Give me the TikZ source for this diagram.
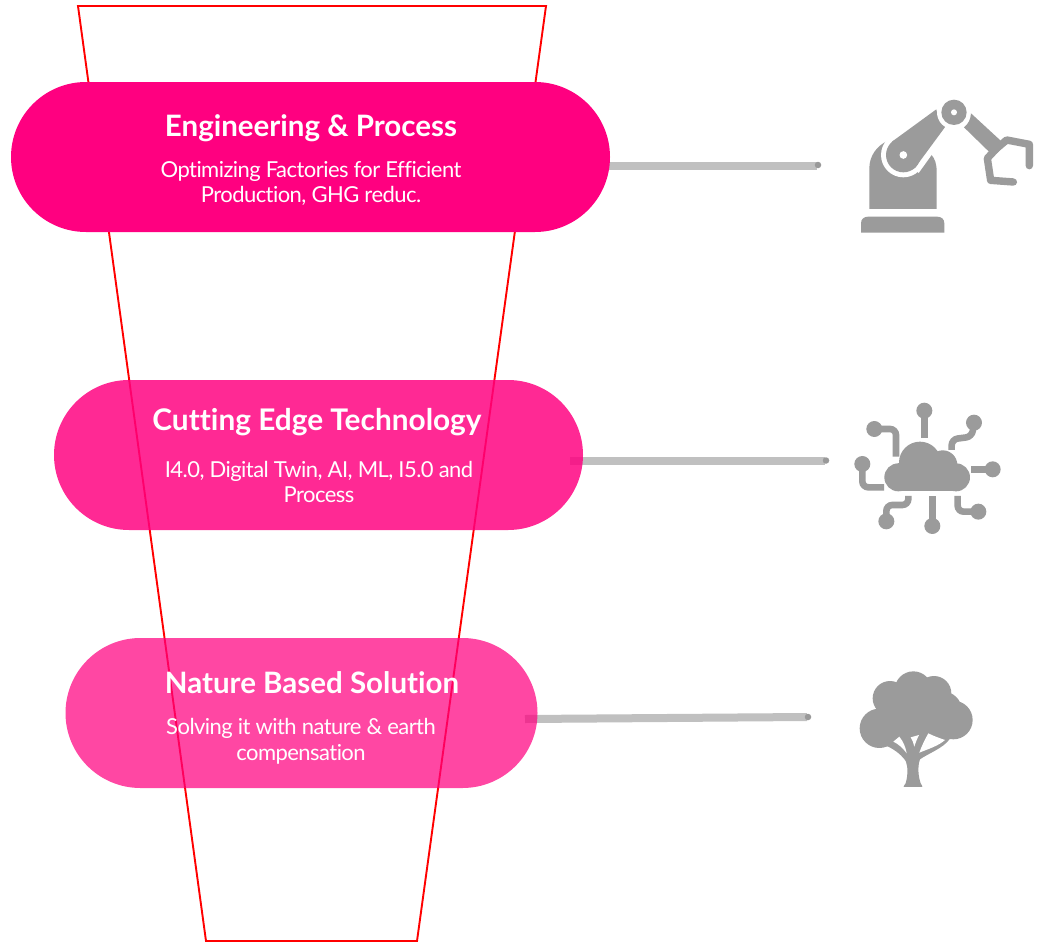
\documentclass[tikz,border=0pt]{standalone}
\usepackage{fontspec}
\setmainfont[Ligatures=NoCommon]{Lato}
\newfontfamily\bodyfont[LetterSpace=-2.5,Ligatures=NoCommon]{Lato}
\usetikzlibrary{shapes.misc}
\definecolor{pinkA}{HTML}{FF0080}
\definecolor{iconG}{HTML}{9B9B9B}
\definecolor{barG}{HTML}{C0C0C0}
\definecolor{dotG}{HTML}{999999}
\tikzset{
 pill/.style={rounded rectangle,rounded rectangle arc length=180,minimum height=150pt,inner sep=0pt,fill=pinkA},
 title/.style={text=white,font=\fontsize{29.5}{34}\selectfont\bfseries,inner sep=0pt},
 body/.style={text=white,font=\bodyfont\fontsize{22}{25.6}\selectfont,align=center,inner sep=0pt},
 bar/.style={barG,line width=8pt},
 enddot/.style={circle,fill=dotG,minimum size=6.5pt,inner sep=0pt},
 funnel/.style={draw=red,line width=1.9pt},
 icl/.style={draw=iconG,line width=6.6pt,line cap=butt,rounded corners=6pt},
}
\begin{document}
\begin{tikzpicture}[x=1pt,y=-1pt]
\useasboundingbox[fill=white] (0,0) rectangle (1041,942);
% funnel
\coordinate (f1) at (78,6); \coordinate (f2) at (546,6);
\coordinate (f3) at (417,941); \coordinate (f4) at (206,941);
\draw[funnel] (f1) -- (f2) -- (f3) -- (f4) -- cycle;
% connector ends
\coordinate (s1) at (600,165.5);
\coordinate (s2) at (570,460.5);
\coordinate (s3) at (525,719);
\coordinate (e1) at (817,165.5);
\coordinate (e2) at (825,460.5);
\coordinate (e3) at (807,717);
\draw[bar] (s1) -- (e1);
\draw[bar] (s2) -- (e2);
\draw[bar] (s3) -- (e3);
\node[enddot] (d1) at (818,165) {};
\node[enddot] (d2) at (826,460.5) {};
\node[enddot] (d3) at (808,717) {};
% pills
\node[pill,minimum width=599pt] (p1) at (310.5,157) {};
\node[pill,minimum width=529pt,fill opacity=.84] (p2) at (318.5,455) {};
\node[pill,minimum width=472pt,fill opacity=.72] (p3) at (301.5,713) {};
% text
\node[title] (t1) at (311,128) {Engineering \& Process};
\node[body] (b1) at (311,183.5) {Optimizing Factories for Efficient\\Production, GHG reduc.};
\node[title,font=\fontsize{29.8}{34}\selectfont\bfseries] (t2) at (317,422) {Cutting Edge Technology};
\node[body] (b2) at (319,482) {I4.0, Digital Twin, AI, ML, I5.0 and\\Process};
\node[title] (t3) at (312,683) {Nature Based Solution};
\node[body] (b3) at (301,741.5) {Solving it with nature \& earth\\compensation};
% robot
\begin{scope}[shift={(840,80)},x=.3333pt,y=-.3333pt]
 \fill[iconG] (63,458) -- (63,430) .. controls (63,417) and (72,410) .. (85,410) -- (291,410) .. controls (304,410) and (313,417) .. (313,430) -- (313,458) -- cycle;
 \fill[iconG] (88,387) -- (88,265) .. controls (88,228) and (110,198) .. (142,183) -- (272,222) .. controls (285,235) and (290,252) .. (290,275) -- (290,387) -- cycle;
 \fill[white] (190,225) circle (67);
 \fill[white] (147,173) -- (285,75) -- (332,145) -- (236,279) -- cycle;
 \fill[iconG] (190,225) circle (52);
 \fill[iconG] (156,185) -- (289,88) .. controls (292,110) and (300,130) .. (316,140) -- (224,265) -- cycle;
 \fill[white] (190,225) circle (11.5);
 \fill[white] (342,97) circle (51);
 \fill[iconG] (342,97) circle (38);
 \fill[white] (342,97) circle (9);
 \fill[iconG] (393,100) -- (482,182) -- (450,218) -- (372,142) .. controls (385,132) and (392,118) .. (393,100) -- cycle;
 \draw[iconG,line width=7.4pt,line cap=round,line join=round] (462,212) -- (500,180) -- (568,193) -- (568,257);
 \draw[iconG,line width=7.4pt,line cap=round,line join=round] (470,205) -- (442,235) -- (452,301) -- (520,306);
\end{scope}
% cloud
\begin{scope}[shift={(840,390)},x=.3333pt,y=-.3333pt]
 \fill[iconG] (175,262) circle (42);
 \fill[iconG] (348,262) circle (42);
 \fill[iconG] (240,218) circle (63);
 \fill[iconG] (308,225) circle (44);
 \fill[iconG] (175,220) rectangle (348,304);
 \foreach \p in {(253,62),(103,117),(402,98),(67,222),(458,238),(139,394),(277,408),(415,365)} \fill[iconG] \p circle (24);
 \draw[icl] (253,62) -- (253,145);
 \draw[icl] (103,117) -- (168,117) -- (168,200);
 \draw[icl] (402,98) -- (396,140) -- (335,148) -- (335,180);
 \draw[icl] (67,222) -- (67,292) -- (132,292);
 \draw[icl] (458,238) -- (392,238);
 \draw[icl] (139,394) -- (139,345) -- (205,345) -- (205,318);
 \draw[icl] (277,408) -- (277,318);
 \draw[icl] (415,365) -- (353,365) -- (353,318);
\end{scope}
% tree
\begin{scope}[shift={(840,660)},x=.3333pt,y=-.3333pt]
 \fill[iconG] (220,90) circle (56);
 \fill[iconG] (150,115) circle (52);
 \fill[iconG] (282,100) circle (52);
 \fill[iconG] (118,205) circle (59);
 \fill[iconG] (340,180) circle (58);
 \fill[iconG] (310,150) circle (55);
 \fill[iconG] (130,110) -- (300,90) -- (345,225) -- (330,236)
   .. controls (310,265) and (265,280) .. (240,298)
   .. controls (232,320) and (235,350) .. (242,370) .. controls (246,376) and (247,378) .. (247,381)
   -- (191,381) .. controls (191,378) and (193,375) .. (197,370)
   .. controls (203,350) and (205,325) .. (198,305)
   .. controls (190,290) and (165,268) .. (140,258) -- cycle;
 \fill[white] (160,245) -- (178,230) .. controls (190,245) and (197,262) .. (200,280) .. controls (190,265) and (175,252) .. (160,245) -- cycle;
 \fill[white] (212,232) -- (237,225) .. controls (232,235) and (227,247) .. (223,260) .. controls (221,250) and (217,240) .. (212,232) -- cycle;
 \fill[white] (265,220) .. controls (280,228) and (298,234) .. (315,240) .. controls (295,258) and (262,268) .. (238,278) .. controls (245,258) and (255,238) .. (265,220) -- cycle;
\end{scope}
\end{tikzpicture}
\end{document}
